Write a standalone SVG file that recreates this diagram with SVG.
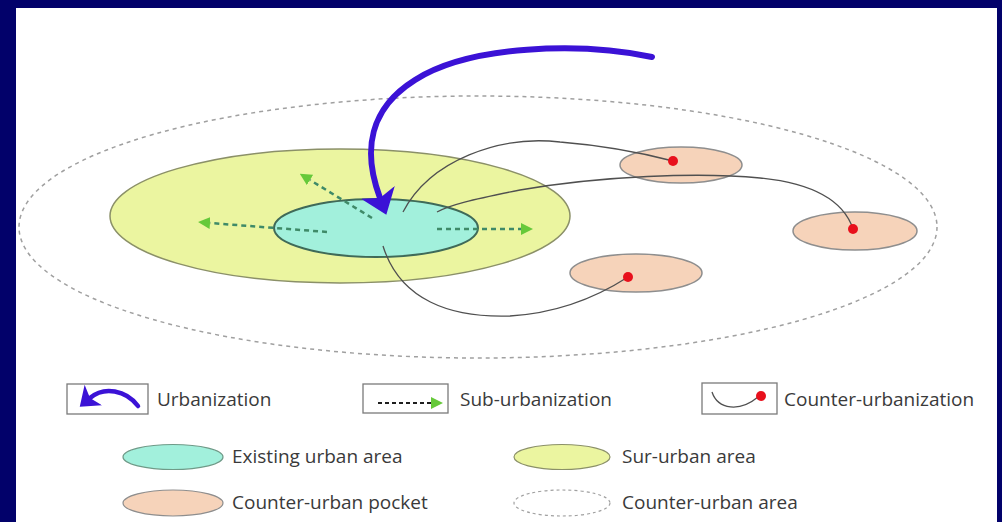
<svg xmlns="http://www.w3.org/2000/svg" width="1002" height="522" viewBox="0 0 1002 522">
  <defs>
    <marker id="blueHead" viewBox="0 0 4 6" refX="1" refY="3" markerWidth="4" markerHeight="6" orient="auto">
      <path d="M0,0 L4,3 L0,6 L1,3 z" fill="#3b12d6"/>
    </marker>
    <marker id="greenHead" viewBox="0 0 12 12" refX="0" refY="6" markerWidth="12" markerHeight="12" markerUnits="userSpaceOnUse" orient="auto">
      <path d="M0,0 L12,6 L0,12 z" fill="#66c93a"/>
    </marker>
    <style>
      .frame { fill: #02016a; }
      .paper { fill: #ffffff; }
      .area { fill: none; stroke: #a0a0a0; stroke-width: 1.5; stroke-dasharray: 4 4; }
      .sur { fill: #ebf5a0; stroke: #8b9068; stroke-width: 1.5; }
      .urban { fill: #a2f0dc; stroke: #3f6a58; stroke-width: 2; }
      .pocket { fill: #f6d3ba; stroke: #8e8e8e; stroke-width: 1.5; }
      .dot { fill: #e8101c; }
      .urb { fill: none; stroke: #3b12d6; stroke-linecap: round; marker-end: url(#blueHead); }
      .sub { fill: none; stroke: #3f8a68; stroke-width: 2.5; stroke-dasharray: 5 4; marker-end: url(#greenHead); }
      .cnt { fill: none; stroke: #505050; stroke-width: 1.3; }
      .box { fill: #ffffff; stroke: #7a7a7a; stroke-width: 1.3; }
      .lbl { font-family: "Open Sans", "Liberation Sans", sans-serif; font-size: 19px; fill: #3a3a3a; }
    </style>
  </defs>

  <rect class="frame" x="0" y="0" width="1002" height="522"/>
  <rect class="paper" x="16" y="8" width="981" height="514"/>

  <g id="counter-urban-area">
    <ellipse class="area" cx="478" cy="227" rx="459" ry="131"/>
  </g>
  <g id="sur-urban-area">
    <ellipse class="sur" cx="340" cy="216" rx="230" ry="67"/>
  </g>
  <g id="existing-urban-area">
    <ellipse class="urban" cx="376" cy="228" rx="102" ry="29"/>
  </g>
  <g id="pocket-top">
    <ellipse class="pocket" cx="681" cy="165" rx="61" ry="18"/>
  </g>
  <g id="pocket-right">
    <ellipse class="pocket" cx="855" cy="231" rx="62" ry="19"/>
  </g>
  <g id="pocket-bottom">
    <ellipse class="pocket" cx="636" cy="273" rx="66" ry="19"/>
  </g>

  <g id="connectors">
    <path class="sub" d="M327,232 L210,223"/>
    <path class="sub" d="M372,218 L310,180"/>
    <path class="sub" d="M437,229 L521,229"/>
    <path class="cnt" d="M403,212 C430,160 500,135 560,142 C610,146 650,155 673,161"/>
    <path class="cnt" d="M437,212 C450,205 470,200 520,190 C600,176 700,172 760,178 C820,184 845,205 853,229"/>
    <path class="cnt" d="M383,246 C400,300 450,318 510,316 C560,313 600,295 628,277"/>
    <circle class="dot" cx="673" cy="161" r="5"/>
    <circle class="dot" cx="853" cy="229" r="5"/>
    <circle class="dot" cx="628" cy="277" r="5"/>
    <path class="urb" stroke-width="6" d="M652,57 C580,42 470,45 415,80 C370,108 362,150 380,198"/>
  </g>

  <g id="legend-urbanization">
    <rect class="box" x="67" y="384" width="81" height="30"/>
    <path class="urb" style="stroke-width:4.5" d="M138,406 C126,390 104,386 90,398"/>
    <text class="lbl" x="157" y="406">Urbanization</text>
  </g>
  <g id="legend-sub-urbanization">
    <rect class="box" x="363" y="384" width="85" height="29"/>
    <path class="sub" style="stroke:#1e1e1e;stroke-width:1.8;stroke-dasharray:4 3" d="M378,403 L431,403"/>
    <text class="lbl" x="460" y="406">Sub-urbanization</text>
  </g>
  <g id="legend-counter-urbanization">
    <rect class="box" x="702" y="383" width="75" height="31"/>
    <path class="cnt" d="M712,392 C718,410 740,412 758,397"/>
    <circle class="dot" cx="761" cy="396" r="5"/>
    <text class="lbl" x="784" y="406">Counter-urbanization</text>
  </g>
  <g id="legend-existing">
    <ellipse class="urban" cx="173" cy="457" rx="50" ry="12.5" style="stroke:#6f9a88;stroke-width:1.2"/>
    <text class="lbl" x="232" y="463">Existing urban area</text>
  </g>
  <g id="legend-sur">
    <ellipse class="sur" cx="562" cy="457" rx="48" ry="12.5" style="stroke-width:1.2"/>
    <text class="lbl" x="622" y="463">Sur-urban area</text>
  </g>
  <g id="legend-pocket">
    <ellipse class="pocket" cx="173" cy="503" rx="50" ry="13" style="stroke-width:1.2"/>
    <text class="lbl" x="232" y="509">Counter-urban pocket</text>
  </g>
  <g id="legend-area">
    <ellipse class="area" cx="562" cy="503" rx="48" ry="13" style="stroke-dasharray:3 3;stroke-width:1.2"/>
    <text class="lbl" x="622" y="509">Counter-urban area</text>
  </g>
</svg>
